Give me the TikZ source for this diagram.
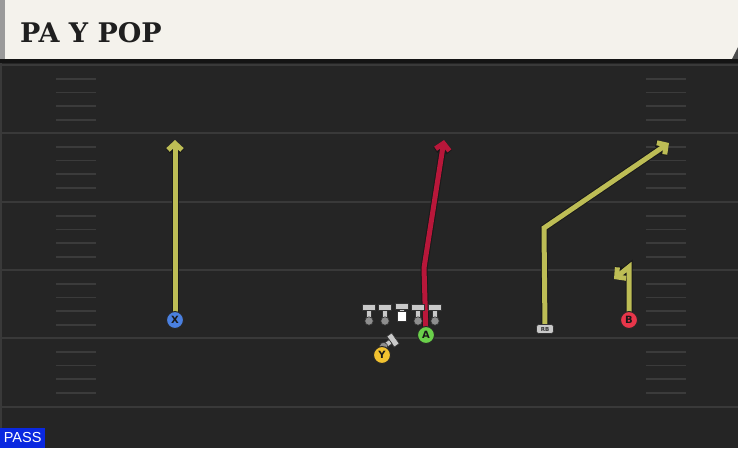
\documentclass[tikz,border=0pt]{standalone}
\usepackage{fontspec}
\setmainfont{DejaVu Sans}
\newfontfamily\titlefont{DejaVu Serif}
\newfontfamily\passfont{Liberation Sans}
\usetikzlibrary{arrows.meta}
\definecolor{field}{HTML}{252525}
\definecolor{yardline}{HTML}{393939}
\definecolor{hash}{HTML}{3B3B3B}
\definecolor{cream}{HTML}{F4F2EC}
\definecolor{headgrey}{HTML}{9A9A9A}
\definecolor{routey}{HTML}{BDBD55}
\definecolor{router}{HTML}{B8173A}
\definecolor{olgrey}{HTML}{C9C9C9}
\definecolor{oldot}{HTML}{8E8E8E}
\definecolor{xblue}{HTML}{4A80E0}
\definecolor{agreen}{HTML}{6AD04A}
\definecolor{bred}{HTML}{E8364A}
\definecolor{yyellow}{HTML}{F2C230}
\definecolor{passblue}{HTML}{0A28E0}
\pgfdeclarelayer{back}
\pgfdeclarelayer{routes}
\pgfsetlayers{back,routes,main}
\tikzset{
  yardl/.style={draw=yardline, line width=2pt},
  hashl/.style={draw=hash, line width=1.6pt},
  player/.style={circle, minimum size=17pt, inner sep=0pt, draw=black!85, line width=1pt,
    text=black!90, font=\bfseries\fontsize{10}{10}\selectfont},
  routeout/.style={draw=black!90, line width=7pt, line join=miter,
    -{Straight Barb[length=6.5pt,width=14pt]}},
  routein/.style={line width=5pt, line join=miter,
    -{Straight Barb[length=6.5pt,width=14pt]}},
  olbar/.style={fill=olgrey, draw=black!80, line width=0.6pt},
  oldotst/.style={fill=oldot, draw=black!80, line width=0.6pt},
  rbbox/.style={fill=olgrey, draw=black!80, line width=0.6pt, rounded corners=2.5pt,
    minimum width=17pt, minimum height=9pt, inner sep=0pt, font=\bfseries\fontsize{5.5}{5.5}\selectfont, text=black!80}
}
\begin{document}
\begin{tikzpicture}[x=1pt,y=-1pt]
\useasboundingbox (0,0) rectangle (738,448);
\begin{pgfonlayer}{back}
  \fill[field] (0,0) rectangle (738,448);
  \fill[yardline] (0,63) rectangle (2,448);
  \foreach \yy in {65,133,202,270,338,407} {
    \draw[yardl] (2,\yy) -- (738,\yy);
  }
  \foreach \yy in {65,133,202,270,338} {
    \foreach \k in {1,2,3,4} {
      \draw[hashl] (56,\yy+\k*13.7) -- (96,\yy+\k*13.7);
      \draw[hashl] (646,\yy+\k*13.7) -- (686,\yy+\k*13.7);
    }
  }
  % header
  \fill[cream] (0,0) rectangle (738,59);
  \fill[headgrey] (0,0) rectangle (5,59);
  \fill[black!70] (738,47) -- (738,59) -- (732,59) -- cycle;
  \fill[black!92] (0,59) rectangle (738,63);
\end{pgfonlayer}

\node[anchor=base west, inner sep=0pt, text=black!88] (title) at (20,42)
  {\titlefont\bfseries\fontsize{27}{27}\selectfont PA Y POP};

% offensive line
\foreach \xx [count=\i] in {369,385,418,435} {
  \fill[olbar] (\xx-6.5,304) rectangle (\xx+6.5,310);
  \fill[olbar] (\xx-2.5,310) rectangle (\xx+2.5,318);
  \fill[oldotst] (\xx,321) circle (4.2);
}
\fill[olbar] (395.5,303) rectangle (408.5,309);
\fill[olbar] (399.5,309) rectangle (404.5,312);
\fill[white, draw=black!80, line width=0.6pt] (397.5,311.5) rectangle (406.5,321);

% Y blocker piece
\begin{scope}[shift={(393,340)}, rotate=-55]
  \fill[olbar] (-6.5,-3) rectangle (6.5,3);
  \fill[olbar] (-2.5,3) rectangle (2.5,8.5);
  \fill[oldotst] (0,11.5) circle (4.2);
\end{scope}

% players
\node[player, fill=xblue] (X) at (175,320) {X};
\node[player, fill=agreen] (A) at (426,335) {A};
\node[player, fill=bred] (B) at (629,320) {B};
\node[player, fill=yyellow] (Y) at (382,355) {Y};
\node[rbbox] (RB) at (545,329) {RB};

% route points
\coordinate (Xtip) at (175,140);
\coordinate (Acorner) at (424,268);
\coordinate (Atip) at (444,140);
\coordinate (RBcorner) at (544,228);
\coordinate (RBtip) at (669,143);
\coordinate (Bcorner) at (629,267);
\coordinate (Btip) at (614,279);

\begin{pgfonlayer}{routes}
  \draw[routeout] (X.center) -- (Xtip);
  \draw[routein, draw=routey] (X.center) -- (Xtip);
  \draw[routeout] (A.center) -- (Acorner) -- (Atip);
  \draw[routein, draw=router] (A.center) -- (Acorner) -- (Atip);
  \draw[routeout] (RB.center) -- (RBcorner) -- (RBtip);
  \draw[routein, draw=routey] (RB.center) -- (RBcorner) -- (RBtip);
  \draw[routeout] (B.center) -- (Bcorner) -- (Btip);
  \draw[routein, draw=routey] (B.center) -- (Bcorner) -- (Btip);
\end{pgfonlayer}

\node[fill=passblue, text=white, anchor=south west, minimum width=45pt, minimum height=20pt,
  inner sep=0pt, font=\passfont\fontsize{14.5}{14.5}\selectfont] (pass) at (0,448) {PASS};
\end{tikzpicture}
\end{document}
